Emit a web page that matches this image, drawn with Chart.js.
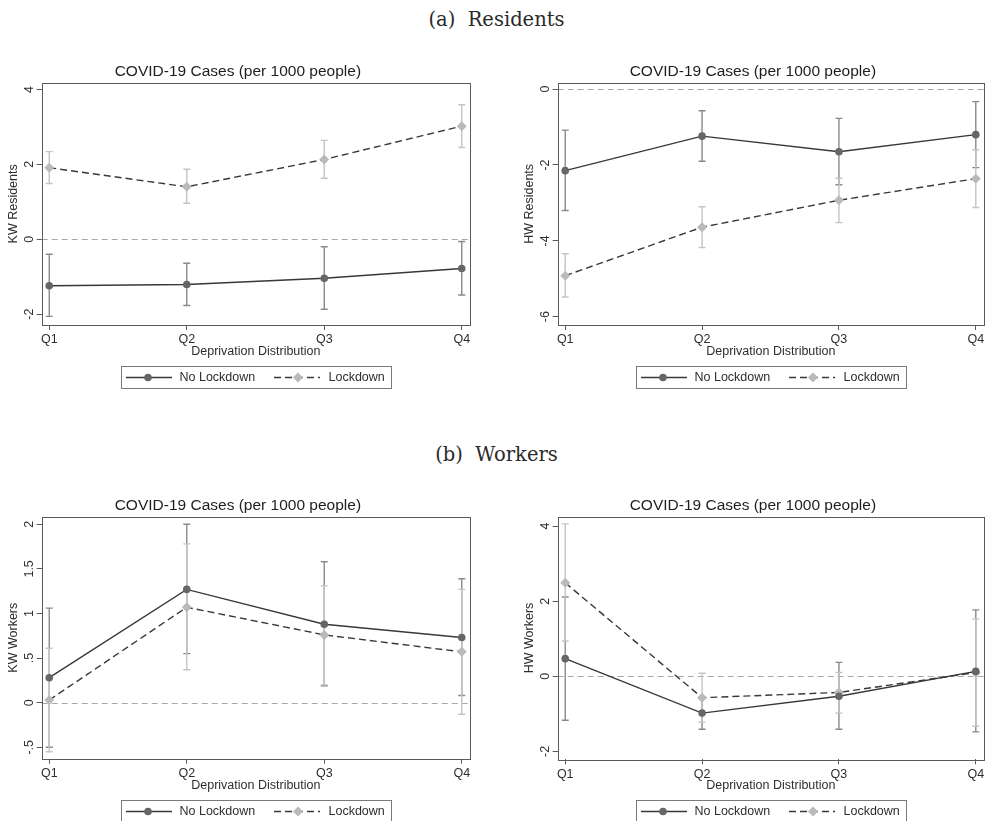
<!DOCTYPE html>
<html>
<head>
<meta charset="utf-8">
<script src="https://cdn.jsdelivr.net/npm/chart.js@4.4.1/dist/chart.umd.min.js"></script>
<style>
body { margin: 0; background: #fff; width: 989px; height: 821px; position: relative; overflow: hidden; }
.head { position: absolute; left: 2px; width: 989px; text-align: center; font-family: "DejaVu Serif", serif; font-size: 19.5px; line-height: 24px; color: #2a2a2a; }
.panel { position: absolute; }
</style>
</head>
<body>
<div class="head" style="top:8px">(a)&nbsp; Residents</div>
<div class="head" style="top:443px">(b)&nbsp; Workers</div>

<div class="panel" style="left:0px;top:60px"><canvas id="kwRes" width="478" height="340"></canvas></div>
<div class="panel" style="left:516px;top:60px"><canvas id="hwRes" width="473" height="340"></canvas></div>
<div class="panel" style="left:0px;top:490px"><canvas id="kwWork" width="478" height="331"></canvas></div>
<div class="panel" style="left:516px;top:490px"><canvas id="hwWork" width="473" height="331"></canvas></div>

<script>
var quartiles = ['Q1', 'Q2', 'Q3', 'Q4'];
var seriesNames = ['No Lockdown', 'Lockdown'];
var chartTitle = 'COVID-19 Cases (per 1000 people)';
var xTitle = 'Deprivation Distribution';

// (a) residents - KW
var kwResNo = [-1.24, -1.21, -1.04, -0.78];
var kwResNoLo = [-2.06, -1.77, -1.87, -1.49];
var kwResNoHi = [-0.40, -0.64, -0.20, -0.06];
var kwResLock = [1.91, 1.40, 2.13, 3.02];
var kwResLockLo = [1.49, 0.96, 1.63, 2.45];
var kwResLockHi = [2.34, 1.87, 2.64, 3.59];
var kwResTicks = [-2, 0, 2, 4];

// (a) residents - HW
var hwResNo = [-2.15, -1.24, -1.65, -1.20];
var hwResNoLo = [-3.20, -1.90, -2.52, -2.07];
var hwResNoHi = [-1.08, -0.57, -0.77, -0.33];
var hwResLock = [-4.92, -3.64, -2.93, -2.36];
var hwResLockLo = [-5.48, -4.18, -3.52, -3.12];
var hwResLockHi = [-4.34, -3.10, -2.35, -1.60];
var hwResTicks = [-6, -4, -2, 0];

// (b) workers - KW
var kwWorkNo = [0.28, 1.27, 0.88, 0.73];
var kwWorkNoLo = [-0.50, 0.55, 0.19, 0.08];
var kwWorkNoHi = [1.06, 2.00, 1.58, 1.39];
var kwWorkLock = [0.03, 1.07, 0.76, 0.57];
var kwWorkLockLo = [-0.55, 0.37, 0.20, -0.13];
var kwWorkLockHi = [0.61, 1.78, 1.31, 1.27];
var kwWorkTicks = [-0.5, 0, 0.5, 1, 1.5, 2];

// (b) workers - HW
var hwWorkNo = [0.47, -0.98, -0.53, 0.13];
var hwWorkNoLo = [-1.17, -1.41, -1.41, -1.48];
var hwWorkNoHi = [2.11, -0.55, 0.37, 1.77];
var hwWorkLock = [2.49, -0.57, -0.43, 0.10];
var hwWorkLockLo = [0.94, -1.22, -0.98, -1.33];
var hwWorkLockHi = [4.06, 0.08, 0.10, 1.53];
var hwWorkTicks = [-2, 0, 2, 4];

var FONT = '"Liberation Sans", Arial, sans-serif';
var TEXT = '#2e2e2e';
var noColor = '#666666', noBar = '#8a8a8a';
var lockColor = '#bababa', lockBar = '#c4c4c4';
var lineColor = '#383838';

Chart.defaults.font.family = FONT;
Chart.defaults.font.size = 12.5;
Chart.defaults.color = TEXT;

// stata style tick text: .5, -.5
function stataTick(v) {
    var s = String(Math.round(v * 100) / 100);
    return s.replace(/^(-?)0\./, '$1.');
}

function toPoints(arr) {
    return arr.map(function (v, i) { return { x: i + 1, y: v }; });
}

function drawDiamond(ctx, x, y, r) {
    ctx.beginPath();
    ctx.moveTo(x, y - r);
    ctx.lineTo(x + r, y);
    ctx.lineTo(x, y + r);
    ctx.lineTo(x - r, y);
    ctx.closePath();
    ctx.fill();
}

var stataPlugin = {
    id: 'stataPanel',
    beforeDatasetsDraw: function (chart) {
        var ctx = chart.ctx, a = chart.chartArea, ys = chart.scales.y;
        ctx.save();
        // zero reference line
        var y0 = Math.round(ys.getPixelForValue(0)) + 0.5;
        ctx.strokeStyle = '#a8a8a8';
        ctx.lineWidth = 1.2;
        ctx.setLineDash([6, 4]);
        ctx.beginPath();
        ctx.moveTo(a.left, y0);
        ctx.lineTo(a.right, y0);
        ctx.stroke();
        ctx.setLineDash([]);
        // confidence intervals
        chart.data.datasets.forEach(function (ds, di) {
            var meta = chart.getDatasetMeta(di);
            ctx.strokeStyle = ds.barColor;
            ctx.lineWidth = 1.4;
            meta.data.forEach(function (pt, i) {
                var yl = ys.getPixelForValue(ds.lo[i]);
                var yh = ys.getPixelForValue(ds.hi[i]);
                ctx.beginPath();
                ctx.moveTo(pt.x, yl); ctx.lineTo(pt.x, yh);
                ctx.moveTo(pt.x - 3.5, yl); ctx.lineTo(pt.x + 3.5, yl);
                ctx.moveTo(pt.x - 3.5, yh); ctx.lineTo(pt.x + 3.5, yh);
                ctx.stroke();
            });
        });
        ctx.restore();
    },
    afterDraw: function (chart) {
        var ctx = chart.ctx, a = chart.chartArea, ys = chart.scales.y;
        ctx.save();
        // plot region frame
        ctx.strokeStyle = '#5a5a5a';
        ctx.lineWidth = 1;
        ctx.strokeRect(Math.round(a.left) + 0.5, Math.round(a.top) + 0.5,
            Math.round(a.right - a.left), Math.round(a.bottom - a.top));

        // rotated y tick labels
        ctx.fillStyle = TEXT;
        ctx.font = '12.5px ' + FONT;
        ctx.textAlign = 'center';
        ctx.textBaseline = 'middle';
        ys.ticks.forEach(function (t) {
            var py = ys.getPixelForValue(t.value);
            ctx.save();
            ctx.translate(a.left - 12, py);
            ctx.rotate(-Math.PI / 2);
            ctx.fillText(stataTick(t.value), 0, 0);
            ctx.restore();
        });

        // title
        ctx.fillStyle = '#1e1e1e';
        ctx.font = '15.5px ' + FONT;
        ctx.fillText(chartTitle, (a.left + a.right) / 2 - 18, a.top - 11);

        // legend
        var w = 270, h = 22;
        var left = Math.round((a.left + a.right) / 2 - w / 2);
        var top = Math.round(a.bottom + 41);
        var ym = top + h / 2 + 0.5;
        ctx.strokeStyle = '#7a7a7a';
        ctx.strokeRect(left + 0.5, top + 0.5, w, h);
        ctx.strokeStyle = lineColor;
        ctx.lineWidth = 1.4;
        ctx.beginPath();
        ctx.moveTo(left + 5, ym); ctx.lineTo(left + 51, ym);
        ctx.stroke();
        ctx.setLineDash([7, 4]);
        ctx.beginPath();
        ctx.moveTo(left + 153, ym); ctx.lineTo(left + 199, ym);
        ctx.stroke();
        ctx.setLineDash([]);
        ctx.fillStyle = noColor;
        ctx.beginPath();
        ctx.arc(left + 27, ym, 3.8, 0, Math.PI * 2);
        ctx.fill();
        ctx.fillStyle = lockColor;
        drawDiamond(ctx, left + 177, ym, 5);
        ctx.fillStyle = TEXT;
        ctx.font = '12.5px ' + FONT;
        ctx.textAlign = 'left';
        ctx.fillText(seriesNames[0], left + 58.5, ym);
        ctx.fillText(seriesNames[1], left + 207.5, ym);
        ctx.restore();
    }
};

function makePanel(id, p) {
    var yTicks = p.ticks;
    return new Chart(document.getElementById(id), {
        type: 'line',
        data: {
            datasets: [{
                label: seriesNames[0],
                data: toPoints(p.no),
                lo: p.noLo,
                hi: p.noHi,
                barColor: noBar,
                borderColor: lineColor,
                borderWidth: 1.4,
                pointStyle: 'circle',
                pointRadius: 3.8,
                pointBackgroundColor: noColor,
                pointBorderColor: noColor,
                pointBorderWidth: 0,
                tension: 0
            }, {
                label: seriesNames[1],
                data: toPoints(p.lock),
                lo: p.lockLo,
                hi: p.lockHi,
                barColor: lockBar,
                borderColor: lineColor,
                borderWidth: 1.4,
                borderDash: [7, 4],
                pointStyle: 'rectRot',
                pointRadius: 5,
                pointBackgroundColor: lockColor,
                pointBorderColor: lockColor,
                pointBorderWidth: 0,
                tension: 0
            }]
        },
        options: {
            responsive: false,
            animation: false,
            devicePixelRatio: 1,
            layout: { padding: { left: 0, right: p.padRight, top: p.padTop, bottom: p.padBottom } },
            plugins: { legend: { display: false }, tooltip: { enabled: false } },
            scales: {
                x: {
                    type: 'linear',
                    min: 0.945,
                    max: 4.06,
                    afterBuildTicks: function (s) {
                        s.ticks = quartiles.map(function (q, i) { return { value: i + 1 }; });
                    },
                    ticks: {
                        callback: function (v) { return quartiles[v - 1]; },
                        padding: 2.5,
                        color: TEXT,
                        maxRotation: 0,
                        autoSkip: false
                    },
                    grid: { drawOnChartArea: false, tickLength: 5, color: '#5a5a5a' },
                    border: { display: false },
                    title: { display: true, text: xTitle, color: TEXT, padding: { top: 0, bottom: 1.8 } },
                    afterFit: function (s) { s.height = 36; }
                },
                y: {
                    type: 'linear',
                    min: p.yMin,
                    max: p.yMax,
                    afterBuildTicks: function (s) {
                        s.ticks = yTicks.map(function (v) { return { value: v }; });
                    },
                    ticks: { display: false },
                    grid: { drawOnChartArea: false, tickLength: 5, color: '#5a5a5a' },
                    border: { display: false },
                    title: { display: true, text: p.yLabel, color: TEXT, padding: { top: 6.2, bottom: 0 } },
                    afterFit: function (s) { s.width = 41.7; }
                }
            }
        },
        plugins: [stataPlugin]
    });
}

makePanel('kwRes', {
    yLabel: 'KW Residents', ticks: kwResTicks, yMin: -2.29, yMax: 4.18,
    no: kwResNo, noLo: kwResNoLo, noHi: kwResNoHi,
    lock: kwResLock, lockLo: kwResLockLo, lockHi: kwResLockHi,
    padTop: 22.7, padBottom: 39, padRight: 8
});
makePanel('hwRes', {
    yLabel: 'HW Residents', ticks: hwResTicks, yMin: -6.22, yMax: 0.17,
    no: hwResNo, noLo: hwResNoLo, noHi: hwResNoHi,
    lock: hwResLock, lockLo: hwResLockLo, lockHi: hwResLockHi,
    padTop: 22.7, padBottom: 39, padRight: 3
});
makePanel('kwWork', {
    yLabel: 'KW Workers', ticks: kwWorkTicks, yMin: -0.628, yMax: 2.085,
    no: kwWorkNo, noLo: kwWorkNoLo, noHi: kwWorkNoHi,
    lock: kwWorkLock, lockLo: kwWorkLockLo, lockHi: kwWorkLockHi,
    padTop: 26.7, padBottom: 26.3, padRight: 8
});
makePanel('hwWork', {
    yLabel: 'HW Workers', ticks: hwWorkTicks, yMin: -2.21, yMax: 4.25,
    no: hwWorkNo, noLo: hwWorkNoLo, noHi: hwWorkNoHi,
    lock: hwWorkLock, lockLo: hwWorkLockLo, lockHi: hwWorkLockHi,
    padTop: 26.7, padBottom: 25.7, padRight: 3
});
</script>
</body>
</html>
